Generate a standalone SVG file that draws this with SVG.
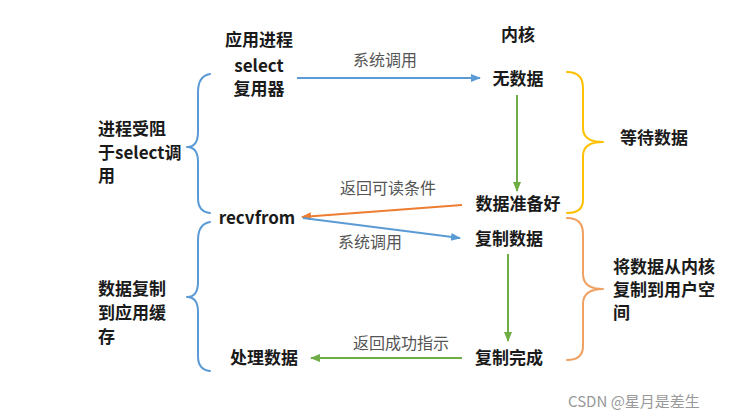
<svg xmlns="http://www.w3.org/2000/svg" width="754" height="420" viewBox="0 0 754 420">
<defs>
<style>
.n{font-family:"Noto Sans CJK SC","Liberation Sans",sans-serif;font-size:17px;font-weight:bold;fill:#1a1a1a;}
.l{font-family:"Noto Sans CJK SC","Liberation Sans",sans-serif;font-size:16px;fill:#555;}
.b{fill:none;stroke-width:2;stroke-linecap:round;stroke-linejoin:round;}
.a{fill:none;stroke-width:2;}
</style>
<marker id="mb" viewBox="0 0 10 10" refX="9" refY="5" markerWidth="5" markerHeight="5" orient="auto"><path d="M0,1 L10,5 L0,9 z" fill="#5b9bd5"/></marker>
<marker id="mg" viewBox="0 0 10 10" refX="9" refY="5" markerWidth="5" markerHeight="5" orient="auto"><path d="M0,1 L10,5 L0,9 z" fill="#70ad47"/></marker>
<marker id="mo" viewBox="0 0 10 10" refX="9" refY="5" markerWidth="5" markerHeight="5" orient="auto"><path d="M0,1 L10,5 L0,9 z" fill="#ed7d31"/></marker>
</defs>
<rect width="754" height="420" fill="#fff"/>
<g id="connectors">
<line class="a" x1="297" y1="78" x2="480" y2="78" stroke="#5b9bd5" marker-end="url(#mb)"/>
<line class="a" x1="517" y1="95" x2="517" y2="191" stroke="#70ad47" marker-end="url(#mg)"/>
<line class="a" x1="462" y1="205" x2="302" y2="217" stroke="#ed7d31" marker-end="url(#mo)"/>
<line class="a" x1="303" y1="218" x2="460" y2="238" stroke="#5b9bd5" marker-end="url(#mb)"/>
<line class="a" x1="508" y1="254" x2="508" y2="341" stroke="#70ad47" marker-end="url(#mg)"/>
<line class="a" x1="462" y1="358" x2="311" y2="358" stroke="#70ad47" marker-end="url(#mg)"/>
<text class="l" x="385" y="66" text-anchor="middle">系统调用</text>
<text class="l" x="388" y="194" text-anchor="middle">返回可读条件</text>
<text class="l" x="370" y="248" text-anchor="middle">系统调用</text>
<text class="l" x="401" y="349" text-anchor="middle">返回成功指示</text>
</g>
<g id="braces">
<path class="b" stroke="#5b9bd5" d="M210,74 Q198,76 198,92 L198,132 Q198,147 187,147 Q198,147 198,162 L198,198 Q198,212 210,213"/>
<path class="b" stroke="#5b9bd5" d="M210,222 Q198,224 198,240 L198,282 Q198,297 187,297 Q198,297 198,312 L198,356 Q198,370 210,371"/>
<path class="b" stroke="#ffc000" d="M567,72 Q583,72 583,88 L583,128 Q583,142 603,142 Q583,142 583,156 L583,200 Q583,213 567,213"/>
<path class="b" stroke="#f0a060" d="M567,218 Q583,218 583,234 L583,274 Q583,289 603,289 Q583,289 583,304 L583,346 Q583,360 567,360"/>
</g>
<g id="node-app-title"><text class="n" x="259" y="46" text-anchor="middle">应用进程</text></g>
<g id="node-kernel-title"><text class="n" x="518" y="41" text-anchor="middle">内核</text></g>
<g id="node-select"><text class="n" x="259" y="72" text-anchor="middle">select</text><text class="n" x="259" y="95" text-anchor="middle">复用器</text></g>
<g id="node-nodata"><text class="n" x="518" y="85" text-anchor="middle">无数据</text></g>
<g id="node-ready"><text class="n" x="518" y="210" text-anchor="middle">数据准备好</text></g>
<g id="node-recvfrom"><text class="n" x="257" y="224" text-anchor="middle">recvfrom</text></g>
<g id="node-copy"><text class="n" x="509" y="245" text-anchor="middle">复制数据</text></g>
<g id="node-done"><text class="n" x="509" y="364" text-anchor="middle">复制完成</text></g>
<g id="node-process"><text class="n" x="264" y="364" text-anchor="middle">处理数据</text></g>
<g id="node-blocked"><text class="n" x="98" y="135">进程受阻</text><text class="n" x="98" y="159">于select调</text><text class="n" x="98" y="182">用</text></g>
<g id="node-copy-app"><text class="n" x="98" y="295">数据复制</text><text class="n" x="98" y="319">到应用缓</text><text class="n" x="98" y="343">存</text></g>
<g id="node-wait"><text class="n" x="620" y="144">等待数据</text></g>
<g id="node-copy-user"><text class="n" x="613" y="273">将数据从内核</text><text class="n" x="613" y="296">复制到用户空</text><text class="n" x="613" y="319">间</text></g>
<text x="568" y="407" font-family="'Noto Sans CJK SC','Liberation Sans',sans-serif" font-size="15" fill="#999">CSDN @星月是差生</text>
</svg>
